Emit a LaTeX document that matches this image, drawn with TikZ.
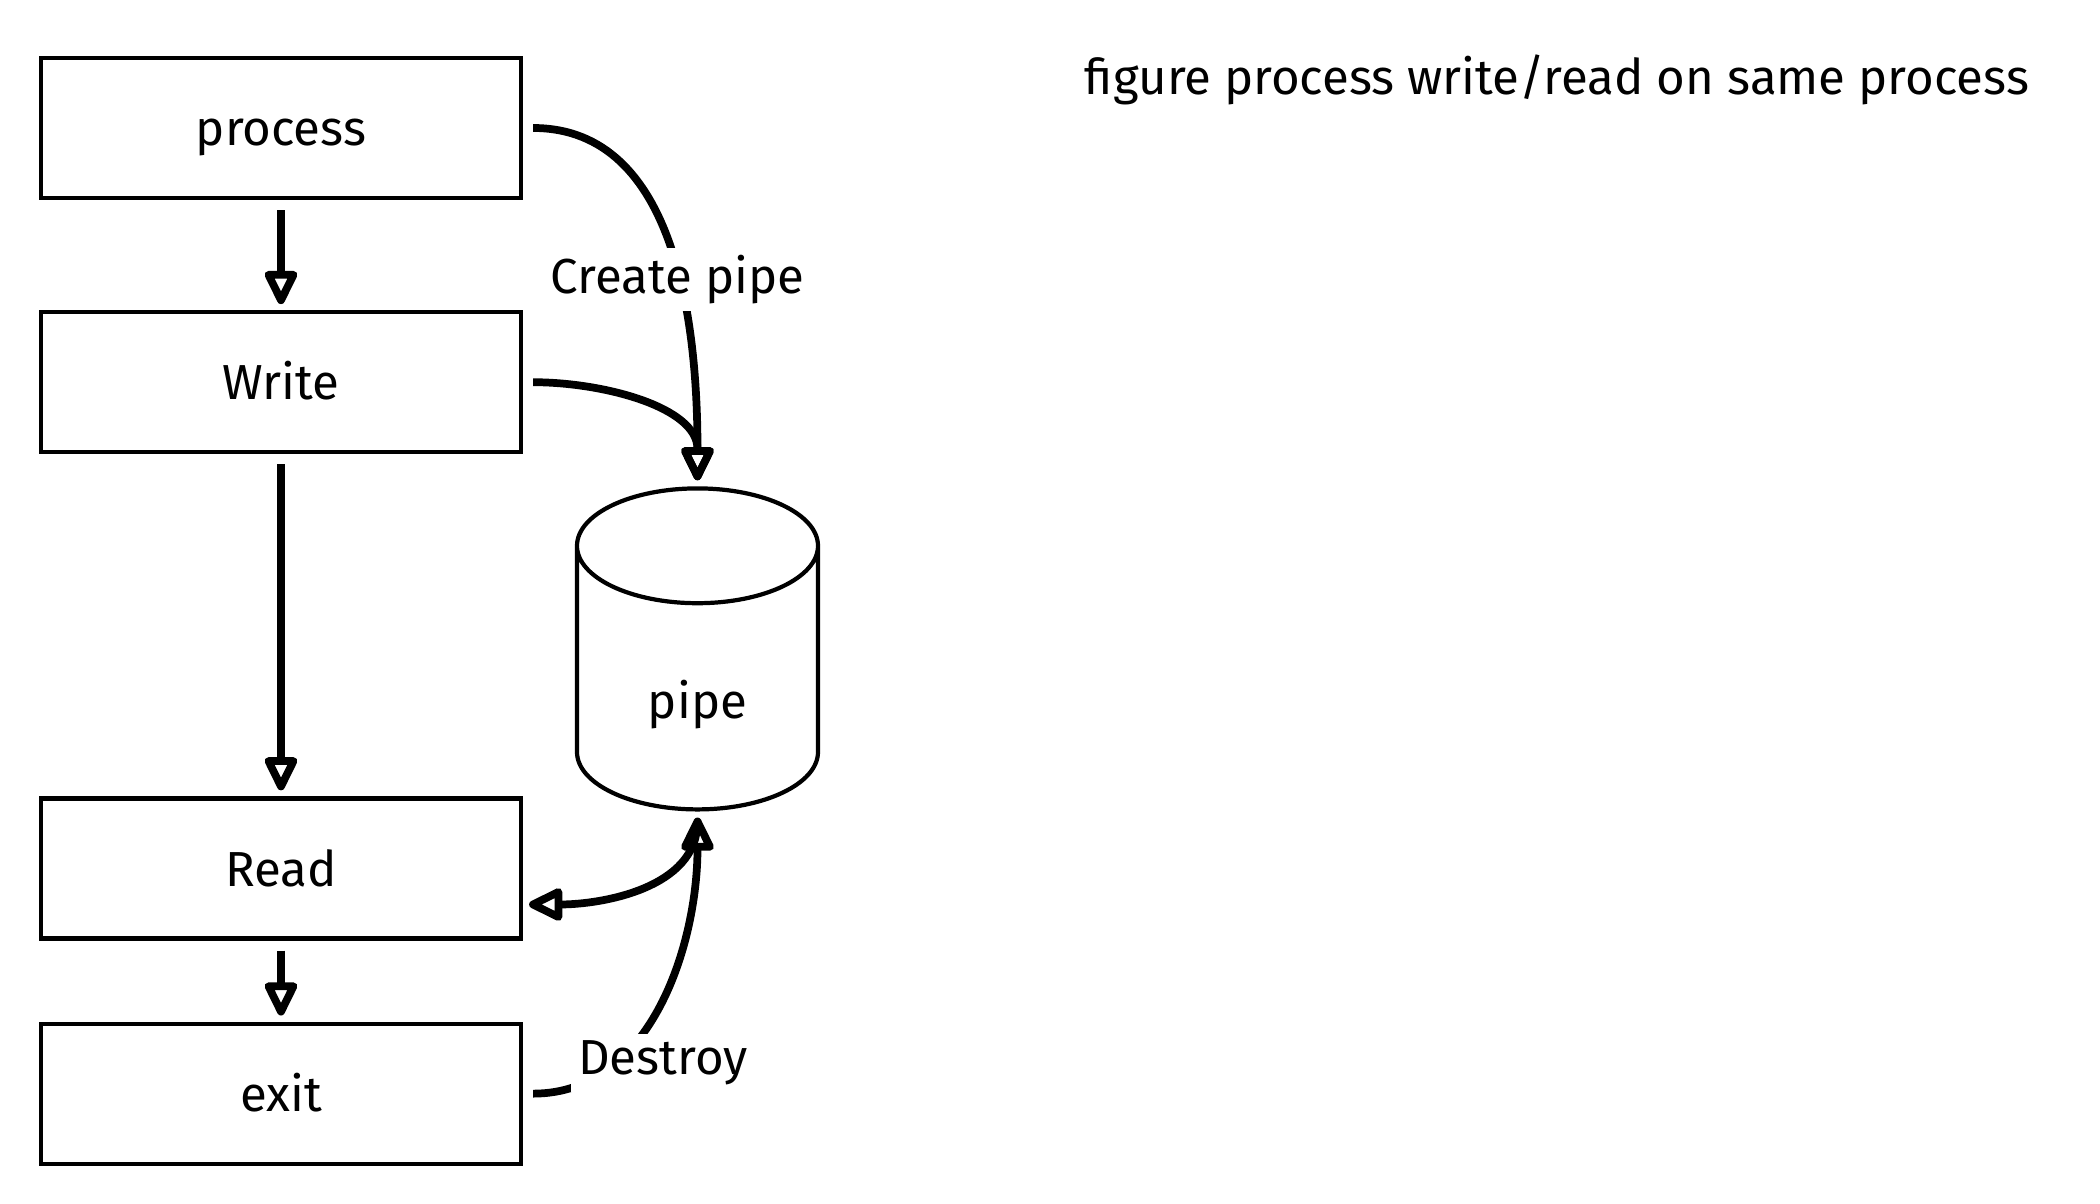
\documentclass[tikz,border=0pt]{standalone}
\usepackage{fontspec}
\setmainfont{Fira Sans}
\usetikzlibrary{arrows.meta, shapes.geometric, positioning, calc}

\begin{document}
\begin{tikzpicture}[
      box/.style={draw, line width=1.2pt, minimum width=4.8cm,
                  minimum height=1.4cm, inner sep=0pt,
                  text height=2.1ex, text depth=0.2ex,
                  font=\fontsize{14}{17}\selectfont},
      store/.style={draw, line width=1.2pt, cylinder,
                    shape border rotate=90, aspect=4.9,
                    minimum width=2.41cm, minimum height=3.21cm},
      lab/.style={fill=white, inner sep=2pt,
                  font=\fontsize{14}{17}\selectfont},
      link/.style={line width=2.2pt, shorten <=1mm, shorten >=0.6mm,
                   -{Triangle[open, round, length=11pt, width=10pt]}},
      node distance=1.10cm]
    \useasboundingbox (0,0) rectangle (21,-12.04);
    \node[box] (proc) at (2.81,-1.28) {process};
    \node[box, below=of proc] (write) {Write};
    \node[box, below=3.42cm of write] (read) {Read};
    \node[box, below=0.81cm of read] (exit) {exit};
    \node[store, label={[yshift=-1.4mm, font=\fontsize{14}{17}\selectfont]center:pipe}]
      (pipe) at (6.975,-6.91) {};
    \node[font=\fontsize{14}{17}\selectfont] (title) at (15.57,-0.8)
      {figure process write/read on same process};
    \draw[link] (proc) -- (write);
    \draw[link] (write) -- (read);
    \draw[link] (read) -- (exit);
    \draw[link] (proc.east) to[out=0, in=90]
      node[lab, pos=0.57] {Create pipe} (pipe.north);
    \draw[link] (write.east) to[out=0, in=90] (pipe.north);
    \draw[link] (pipe.south) to[out=-90, in=0]
      ($(read.east)!0.5!(read.south east)$);
    \draw[link] (exit.east) to[out=0, in=-90]
      node[lab, pos=0.3, xshift=4.5mm, yshift=-0.6mm] {Destroy} (pipe.south);
  \end{tikzpicture}
\end{document}
